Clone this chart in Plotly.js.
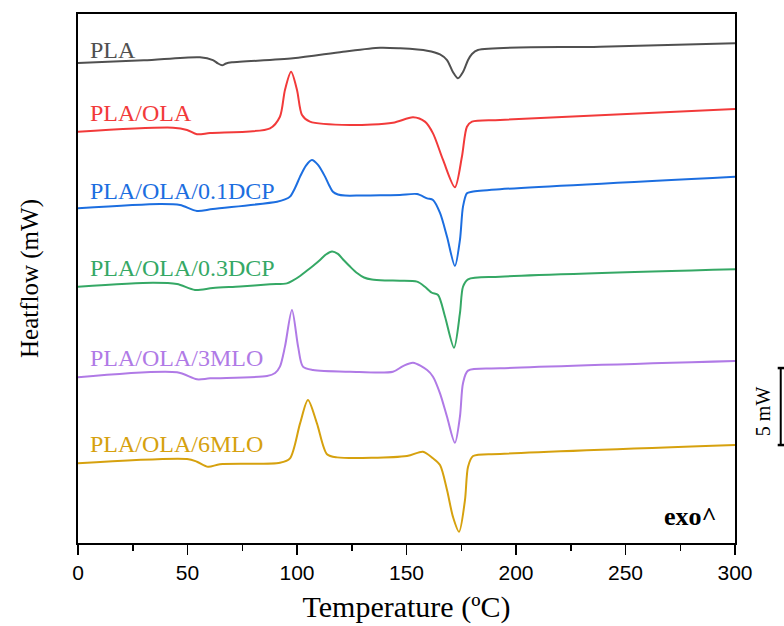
<!DOCTYPE html>
<html>
<head>
<meta charset="utf-8">
<script src="https://cdn.plot.ly/plotly-3.0.1.min.js"></script>
<style>html,body{margin:0;padding:0;background:#fff;}#chart{width:784px;height:626px;}</style>
</head>
<body>
<div id="chart"></div>
<script>
// Temperature (°C) and heat flow (mW, vertically offset curves)
const seriesNames = ["PLA", "PLA/OLA", "PLA/OLA/0.1DCP", "PLA/OLA/0.3DCP", "PLA/OLA/3MLO", "PLA/OLA/6MLO"];
const seriesColors = ["#505050", "#f23a3a", "#1c6ee0", "#35a865", "#b07ae6", "#d6a10e"];

const tPLA = [0, 30.1, 55.7, 61.6, 63.9, 65.8, 67.6, 70.3, 98.2, 121.0, 137.9, 147.0, 159.4, 165.3, 168.5, 171.2, 173.5, 175.8, 178.1, 179.9, 182.6, 238.4, 300];
const hPLA = [31.17, 31.34, 31.54, 31.36, 31.14, 31.02, 31.14, 31.21, 31.47, 31.90, 32.16, 32.12, 31.97, 31.73, 31.36, 30.58, 30.17, 30.58, 31.36, 31.75, 32.01, 32.23, 32.45];

const tOLA = [0, 43.4, 49.8, 54.3, 60.3, 87.7, 92.2, 94.5, 97.3, 100.0, 102.3, 105.9, 124.2, 143.8, 153.0, 158.4, 162.1, 166.7, 172.1, 175.3, 177.6, 179.9, 192.7, 300];
const hOLA = [26.71, 26.97, 26.82, 26.54, 26.62, 26.93, 27.68, 29.42, 30.60, 29.42, 27.79, 27.36, 27.14, 27.29, 27.64, 27.36, 26.60, 24.87, 23.10, 25.08, 27.03, 27.36, 27.47, 28.18];

const tDCP1 = [0, 37.4, 46.6, 54.3, 61.6, 90.9, 94.5, 96.8, 99.1, 101.4, 104.1, 106.8, 109.6, 112.8, 114.6, 116.4, 118.7, 121.9, 128.8, 137.9, 147.0, 154.8, 159.4, 162.1, 165.3, 168.5, 172.1, 174.4, 175.8, 177.6, 179.9, 192.7, 300];
const hDCP1 = [21.73, 22.01, 21.95, 21.56, 21.69, 22.16, 22.31, 22.49, 23.05, 23.79, 24.51, 24.87, 24.55, 23.79, 23.25, 22.81, 22.63, 22.56, 22.56, 22.58, 22.60, 22.66, 22.38, 22.27, 21.43, 19.89, 17.99, 19.68, 21.84, 22.71, 22.81, 22.97, 23.79];

const tDCP3 = [0, 34.2, 45.2, 53.4, 61.6, 74.0, 87.7, 95.4, 98.2, 101.4, 104.6, 107.8, 110.5, 113.2, 116.0, 118.7, 121.5, 124.2, 127.4, 130.6, 134.2, 140.2, 147.0, 154.8, 158.4, 161.6, 164.4, 167.6, 171.7, 174.4, 175.8, 178.1, 192.7, 300];
const hDCP3 = [16.64, 16.90, 16.82, 16.43, 16.56, 16.66, 16.80, 16.86, 17.05, 17.34, 17.69, 18.05, 18.38, 18.73, 18.93, 18.77, 18.34, 17.95, 17.53, 17.24, 17.11, 17.05, 17.03, 16.97, 16.64, 16.25, 16.10, 14.69, 12.68, 14.92, 16.64, 17.12, 17.29, 17.77];

const tMLO3 = [0, 45.2, 54.3, 60.3, 86.3, 90.0, 92.2, 94.5, 97.7, 100.5, 102.7, 107.3, 124.2, 143.8, 148.4, 153.0, 159.4, 162.1, 165.3, 168.5, 172.1, 174.4, 175.8, 178.1, 192.7, 300];
const hMLO3 = [10.76, 11.08, 10.63, 10.69, 10.84, 11.04, 11.45, 12.75, 15.13, 12.75, 11.45, 11.23, 11.12, 11.12, 11.49, 11.71, 11.23, 10.80, 9.72, 8.20, 6.51, 8.20, 10.37, 11.19, 11.34, 11.82];

const tMLO6 = [0, 49.8, 54.3, 59.4, 64.8, 92.2, 96.8, 101.4, 105.0, 109.1, 113.7, 118.3, 150.2, 157.5, 162.1, 165.3, 168.5, 171.2, 174.0, 176.7, 178.1, 180.4, 192.7, 300];
const hMLO6 = [5.18, 5.45, 5.28, 4.95, 5.11, 5.21, 5.50, 7.77, 9.29, 7.77, 5.76, 5.56, 5.65, 5.93, 5.50, 5.06, 3.44, 1.71, 0.73, 2.79, 4.95, 5.65, 5.78, 6.36];

// label anchor positions (°C, mW)
const labelT = [4.6, 4.6, 4.6, 4.6, 4.6, 4.6];
const labelH = [32.0, 27.92, 22.86, 17.86, 12.01, 6.43];

const xTicks = [0, 50, 100, 150, 200, 250, 300];
const scaleBar = [6.36, 11.36]; // 5 mW

const tData = [tPLA, tOLA, tDCP1, tDCP3, tMLO3, tMLO6];
const hData = [hPLA, hOLA, hDCP1, hDCP3, hMLO3, hMLO6];

const traces = seriesNames.map((n, i) => ({
  type: "scatter", mode: "lines", name: n,
  x: tData[i], y: hData[i],
  line: {color: seriesColors[i], width: 2, shape: "spline", smoothing: 0.8},
  hoverinfo: "x+y+name"
}));

const serif = "'Liberation Serif', 'Times New Roman', serif";
const annotations = seriesNames.map((n, i) => ({
  x: labelT[i], y: labelH[i], xref: "x", yref: "y",
  text: n, showarrow: false, xanchor: "left", yanchor: "middle",
  font: {family: serif, size: 24, color: seriesColors[i]}
}));
annotations.push({
  x: 0.975, y: 0.05, xref: "paper", yref: "paper", text: "<b>exo^</b>",
  showarrow: false, xanchor: "right", yanchor: "middle",
  font: {family: serif, size: 26, color: "#000"}
});
annotations.push({
  x: 1.0426, y: (scaleBar[0] + scaleBar[1]) / 2 - 0.3, xref: "paper", yref: "y", text: "5 mW",
  showarrow: false, textangle: -90, xanchor: "center", yanchor: "middle",
  font: {family: serif, size: 20, color: "#000"}
});

const shapes = [
  {type: "line", xref: "paper", yref: "y", x0: 1.0696, x1: 1.0696, y0: scaleBar[0], y1: scaleBar[1], line: {color: "#000", width: 2}},
  {type: "line", xref: "paper", yref: "y", x0: 1.065, x1: 1.076, y0: scaleBar[0], y1: scaleBar[0], line: {color: "#000", width: 2.5}},
  {type: "line", xref: "paper", yref: "y", x0: 1.065, x1: 1.076, y0: scaleBar[1], y1: scaleBar[1], line: {color: "#000", width: 2.5}}
];

const layout = {
  width: 784, height: 626,
  margin: {l: 78, r: 49, t: 14, b: 83},
  paper_bgcolor: "#fff", plot_bgcolor: "#fff",
  showlegend: false,
  xaxis: {
    range: [0, 300], tickvals: xTicks, ticktext: xTicks.map(String),
    ticks: "outside", ticklen: 10, tickwidth: 1.5, tickcolor: "#000",
    minor: {dtick: 25, ticks: "outside", ticklen: 6, tickwidth: 1.5, tickcolor: "#000"},
    showline: true, linecolor: "#000", linewidth: 2, mirror: true,
    showgrid: false, zeroline: false,
    tickfont: {family: "'Liberation Sans', Arial, sans-serif", size: 21, color: "#000"},
    title: {text: "Temperature (ºC)", standoff: 13, font: {family: serif, size: 30, color: "#000"}}
  },
  yaxis: {
    range: [0, 34.35], showticklabels: false, ticks: "",
    showline: true, linecolor: "#000", linewidth: 2, mirror: true,
    showgrid: false, zeroline: false,
    title: {text: "Heatflow (mW)", standoff: 30, font: {family: serif, size: 25, color: "#000"}}
  },
  annotations: annotations,
  shapes: shapes
};

Plotly.newPlot("chart", traces, layout, {displayModeBar: false, staticPlot: true});
</script>
</body>
</html>
